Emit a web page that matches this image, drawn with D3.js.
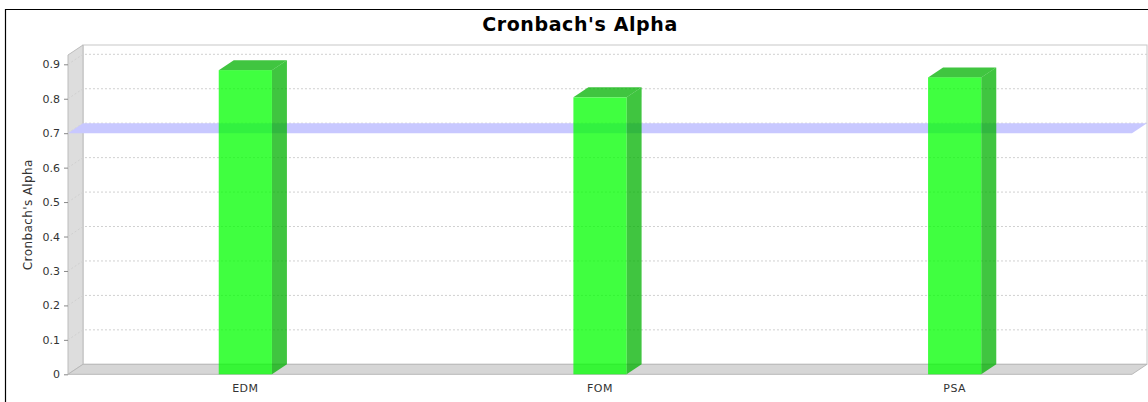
<!DOCTYPE html>
<html>
<head>
<meta charset="utf-8">
<script src="https://cdn.jsdelivr.net/npm/d3@7"></script>
<style>
  body { margin: 0; background: #fff; }
  svg { display: block; }
  text { font-family: "DejaVu Sans", sans-serif; }
</style>
</head>
<body>
<svg id="chart" width="1148" height="402"></svg>
<script>
// data
const categories = ["EDM", "FOM", "PSA"];
const alphaValues = [0.883, 0.804, 0.862];
const yTicks = [0, 0.1, 0.2, 0.3, 0.4, 0.5, 0.6, 0.7, 0.8, 0.9];
const markerValue = 0.7;
const yMax = 0.927;

const svg = d3.select("#chart");

// 3d depth offsets and plot box
const dx = 15, dy = 10;
const plotLeft = 68, plotRight = 1132, plotBottom = 374.3, plotTop = 55;

const y = d3.scaleLinear().domain([0, yMax]).range([plotBottom, plotTop]);
const x = d3.scaleBand().domain(categories).range([plotLeft, plotRight])
  .paddingInner(0.85).paddingOuter(0.425);

// chart border (only top and left visible)
svg.append("path")
  .attr("d", `M5.5,402 L5.5,9.5 L1148,9.5`)
  .attr("fill", "none").attr("stroke", "#000").attr("stroke-width", 1.2);

// title
svg.append("text")
  .attr("x", 580).attr("y", 31)
  .attr("text-anchor", "middle")
  .attr("font-size", 19).attr("font-weight", "bold")
  .attr("letter-spacing", 0.6)
  .text("Cronbach's Alpha");

// back wall
svg.append("rect")
  .attr("x", plotLeft + dx).attr("y", plotTop - dy)
  .attr("width", plotRight - plotLeft).attr("height", plotBottom - plotTop)
  .attr("fill", "#fff").attr("stroke", "#c8c8c8");

// left wall
svg.append("path")
  .attr("d", `M${plotLeft},${plotBottom} L${plotLeft},${plotTop} L${plotLeft + dx},${plotTop - dy} L${plotLeft + dx},${plotBottom - dy} Z`)
  .attr("fill", "#dddddd").attr("stroke", "#bcbcbc");

// floor
svg.append("path")
  .attr("d", `M${plotLeft},${plotBottom} L${plotLeft + dx},${plotBottom - dy} L${plotRight + dx},${plotBottom - dy} L${plotRight},${plotBottom} Z`)
  .attr("fill", "#d6d6d6").attr("stroke", "#b8b8b8");

// gridlines
const grid = svg.append("g").attr("fill", "none")
  .attr("stroke", "#d0d0d0").attr("stroke-dasharray", "2,2");
yTicks.filter(d => d > 0).forEach(d => {
  grid.append("path")
    .attr("d", `M${plotLeft},${y(d)} L${plotLeft + dx},${y(d) - dy} L${plotRight + dx},${y(d) - dy}`);
});

// marker band at 0.7
svg.append("path")
  .attr("d", `M${plotLeft},${y(markerValue)} L${plotRight},${y(markerValue)} L${plotRight + dx},${y(markerValue) - dy} L${plotLeft + dx},${y(markerValue) - dy} Z`)
  .attr("fill", "#c8c8ff");

// bars
const bars = svg.append("g").selectAll("g")
  .data(categories.map((c, i) => ({ cat: c, value: alphaValues[i] })))
  .join("g");

bars.append("path") // side
  .attr("d", d => {
    const x1 = x(d.cat) + x.bandwidth(), yt = y(d.value);
    return `M${x1},${plotBottom} L${x1},${yt} L${x1 + dx},${yt - dy} L${x1 + dx},${plotBottom - dy} Z`;
  })
  .attr("fill", "#00b200").attr("fill-opacity", 0.75);

bars.append("path") // top
  .attr("d", d => {
    const x0 = x(d.cat), x1 = x0 + x.bandwidth(), yt = y(d.value);
    return `M${x0},${yt} L${x0 + dx},${yt - dy} L${x1 + dx},${yt - dy} L${x1},${yt} Z`;
  })
  .attr("fill", "#00b200").attr("fill-opacity", 0.75);

bars.append("rect") // front
  .attr("x", d => x(d.cat))
  .attr("y", d => y(d.value))
  .attr("width", x.bandwidth())
  .attr("height", d => plotBottom - y(d.value))
  .attr("fill", "#00ff00").attr("fill-opacity", 0.75);

// y axis
const yAxis = svg.append("g")
  .attr("transform", `translate(${plotLeft},0)`)
  .call(d3.axisLeft(y).tickValues(yTicks)
    .tickFormat(d => d === 0 ? "0" : d3.format(".1f")(d))
    .tickSize(4).tickPadding(4));
yAxis.select(".domain").remove();
yAxis.selectAll(".tick line").attr("stroke", "#888");
yAxis.selectAll("text").attr("font-size", 11).attr("fill", "#333")
  .attr("font-family", "DejaVu Sans, sans-serif");

svg.append("text")
  .attr("transform", `translate(32,${(plotTop + plotBottom) / 2}) rotate(-90)`)
  .attr("text-anchor", "middle")
  .attr("font-size", 12).attr("fill", "#333")
  .attr("letter-spacing", 0.4)
  .text("Cronbach's Alpha");

// x axis labels
const xAxis = svg.append("g")
  .attr("transform", `translate(0,${plotBottom})`)
  .call(d3.axisBottom(x).tickSize(0).tickPadding(10));
xAxis.select(".domain").remove();
xAxis.selectAll("text").attr("font-size", 11).attr("fill", "#333")
  .attr("letter-spacing", 0.5)
  .attr("font-family", "DejaVu Sans, sans-serif");
</script>
</body>
</html>
